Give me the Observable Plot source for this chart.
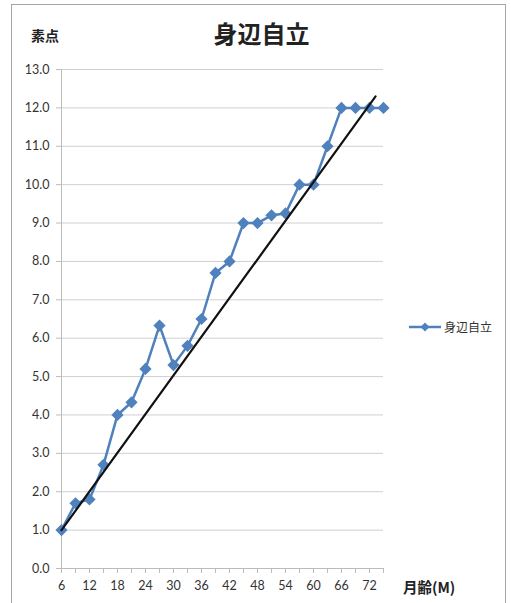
<!DOCTYPE html>
<html>
<head>
<meta charset="utf-8">
<script src="https://cdn.jsdelivr.net/npm/d3@7"></script>
<script src="https://cdn.jsdelivr.net/npm/@observablehq/plot@0.6"></script>
<style>
  html, body { margin: 0; padding: 0; background: #fff; }
  #wrap { position: relative; width: 511px; height: 603px; overflow: hidden; font-family: "Noto Sans CJK JP", "Noto Sans", sans-serif; }
  #frame { position: absolute; left: 11px; top: 4px; width: 495px; height: 640px; border: 1.5px solid #a6a6a6; box-sizing: border-box; }
  .lbl { position: absolute; color: #222; white-space: nowrap; }
  #title { left: 0; width: 523px; text-align: center; top: 15px; font-size: 24px; font-weight: bold; }
  #ylab { left: 31px; top: 25px; font-size: 14px; font-weight: bold; }
  #xlab { left: 403px; top: 576px; font-size: 14.5px; font-weight: bold; }
  #legend { position: absolute; left: 408px; top: 318px; display: flex; align-items: center; font-size: 12px; color: #333; }
  #chart { position: absolute; left: 0; top: 0; }
</style>
</head>
<body>
<div id="wrap">
  <div id="frame"></div>
  <div id="chart"></div>
  <div class="lbl" id="title">身辺自立</div>
  <div class="lbl" id="ylab">素点</div>
  <div class="lbl" id="xlab">月齢(M)</div>
  <div id="legend">
    <svg width="34" height="12"><line x1="1" y1="6" x2="33" y2="6" stroke="#4f81bd" stroke-width="2.5"/><path d="M17,1.5 L21.5,6 L17,10.5 L12.5,6 Z" fill="#4f81bd"/></svg>
    <span style="margin-left:2px">身辺自立</span>
  </div>
</div>
<script>
const months = [6, 9, 12, 15, 18, 21, 24, 27, 30, 33, 36, 39, 42, 45, 48, 51, 54, 57, 60, 63, 66, 69, 72, 75];
const scores = [1.0, 1.7, 1.8, 2.7, 4.0, 4.33, 5.2, 6.33, 5.3, 5.8, 6.5, 7.7, 8.0, 9.0, 9.0, 9.2, 9.25, 10.0, 10.0, 11.0, 12.0, 12.0, 12.0, 12.0];
const refMonths = [6, 73.3];
const refScores = [1.0, 12.3];
const xTickLabels = [6, 12, 18, 24, 30, 36, 42, 48, 54, 60, 66, 72];
const xMinorTicks = [6, 9, 12, 15, 18, 21, 24, 27, 30, 33, 36, 39, 42, 45, 48, 51, 54, 57, 60, 63, 66, 69, 72, 75];
const yTicks = [0, 1, 2, 3, 4, 5, 6, 7, 8, 9, 10, 11, 12, 13];

const series = months.map((m, i) => ({m, s: scores[i]}));
const ref = refMonths.map((m, i) => ({m, s: refScores[i]}));

const chart = Plot.plot({
  width: 511,
  height: 603,
  marginLeft: 61,
  marginRight: 128,
  marginTop: 69,
  marginBottom: 35,
  style: {fontFamily: "Lato, 'Noto Sans', sans-serif", fontSize: "12.5px", color: "#333", background: "transparent"},
  x: {type: "linear", domain: [6, 75], axis: null, label: null},
  y: {type: "linear", domain: [0, 13], axis: null, label: null},
  marks: [
    Plot.gridY(yTicks, {stroke: "#d0d0d0", strokeOpacity: 1, strokeWidth: 1}),
    Plot.axisY(yTicks, {tickFormat: d => d.toFixed(1), tickSize: 5, stroke: "#bbb", strokeOpacity: 1, tickPadding: 7, fill: "#333", fontSize: 12.5, label: null}),
    Plot.ruleX([6], {stroke: "#bbb"}),
    Plot.ruleY([0], {stroke: "#bbb"}),
    Plot.axisX(xMinorTicks, {tickSize: 5, tickFormat: () => "", stroke: "#bbb", strokeOpacity: 1, label: null}),
    Plot.axisX(xTickLabels, {tickSize: 0, tickPadding: 13, fill: "#333", fontSize: 12.5, label: null}),
    Plot.line(series, {x: "m", y: "s", stroke: "#4f81bd", strokeWidth: 2.5}),
    Plot.dot(series, {x: "m", y: "s", symbol: "diamond2", r: 5.5, fill: "#4f81bd"}),
    Plot.line(ref, {x: "m", y: "s", stroke: "#111", strokeWidth: 2.2})
  ]
});
document.getElementById("chart").appendChild(chart);
</script>
</body>
</html>
